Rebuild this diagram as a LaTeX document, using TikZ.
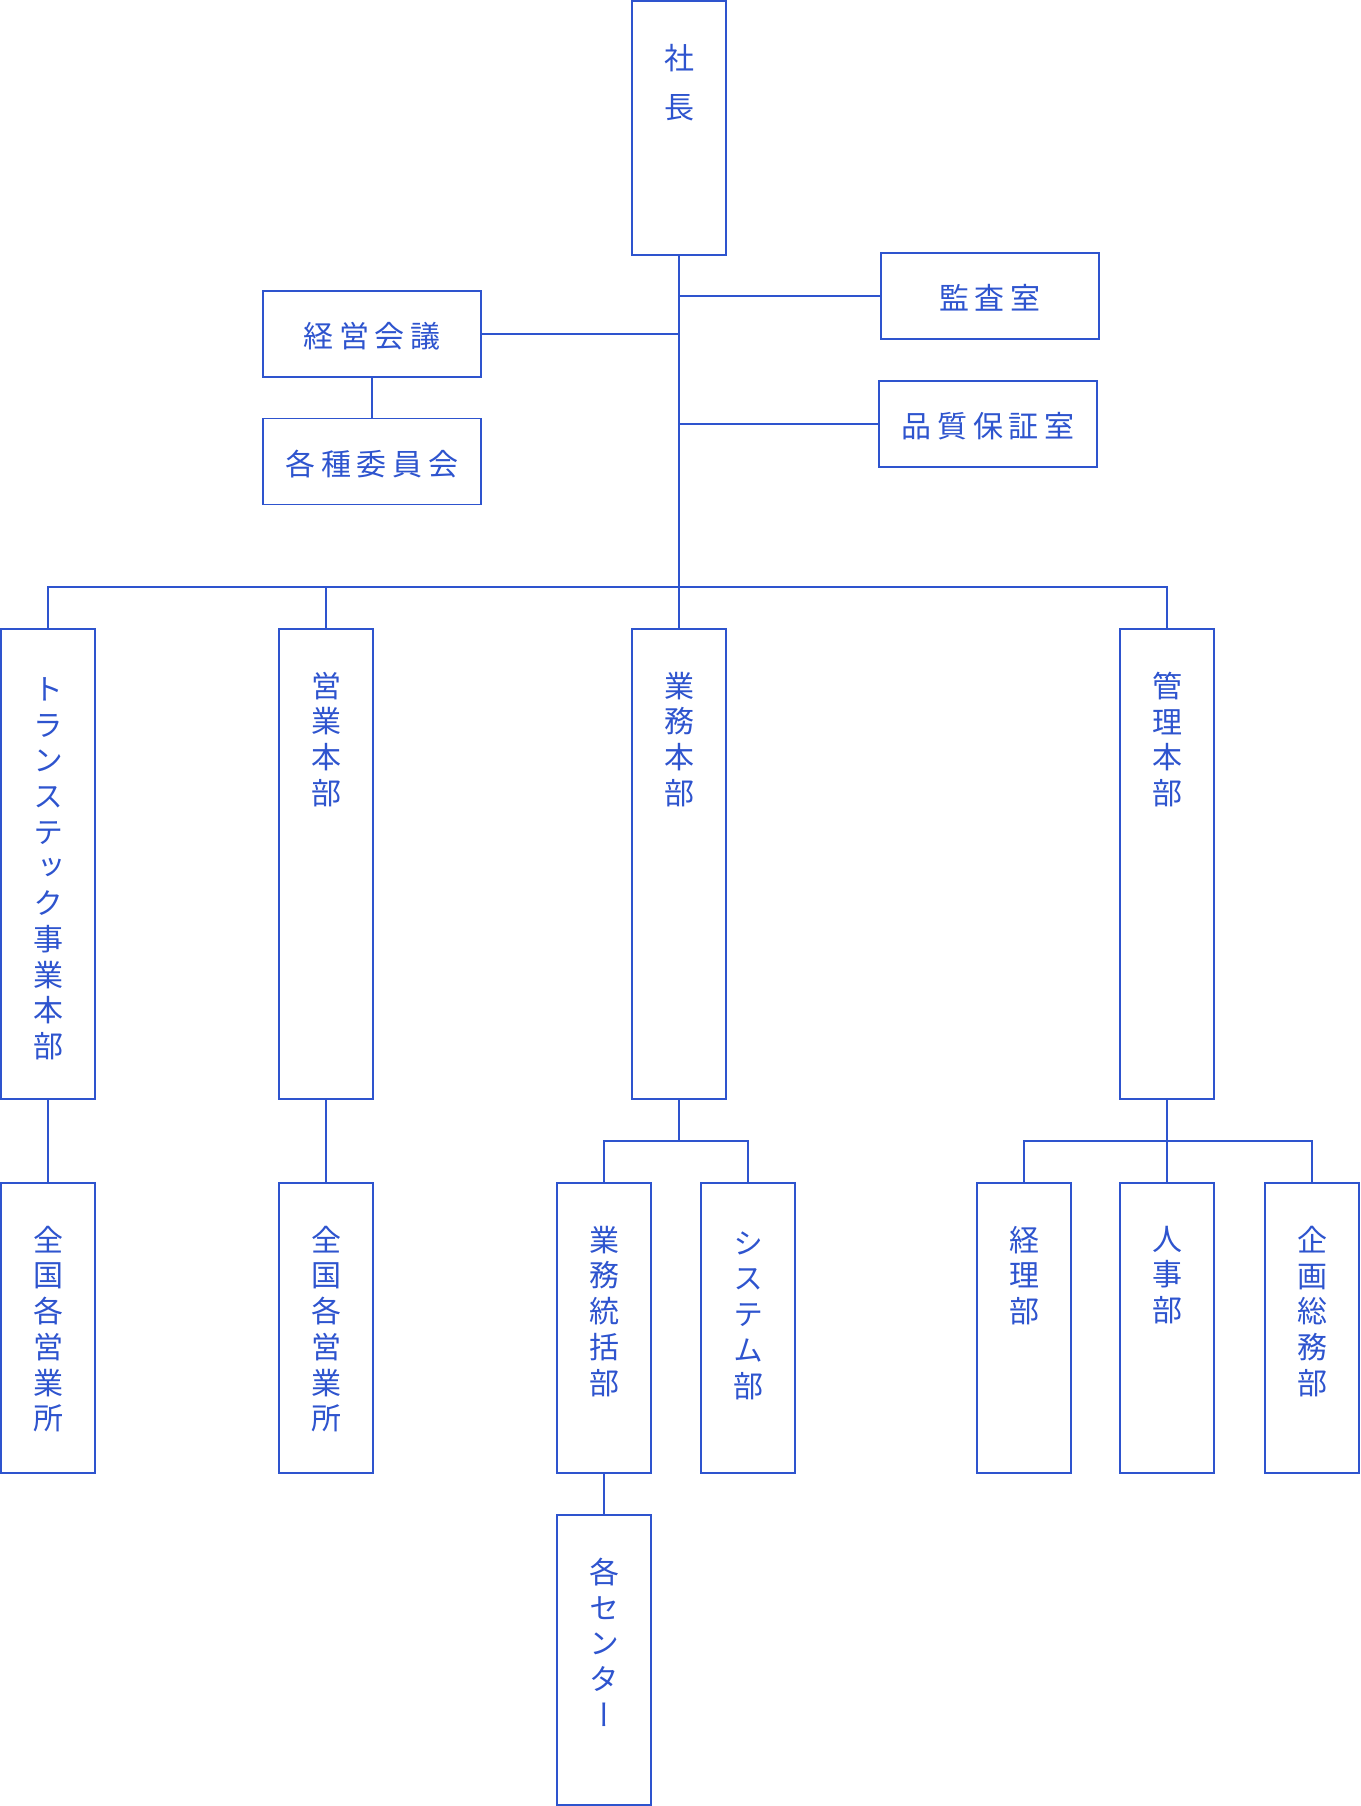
\documentclass[tikz,border=0pt]{standalone}
\usepackage{fontspec}
\setmainfont{Noto Sans CJK JP}
\newfontfamily\jpvert{Noto Sans CJK JP}[RawFeature=+vert]
\definecolor{orgblue}{RGB}{46,84,206}
\newcommand\gapj{\hspace{5.6pt}}

\begin{document}
\begin{tikzpicture}[x=1pt, y=-1pt, line width=1.5pt, orgblue,
  unit/.style={draw, rectangle, inner sep=0pt, minimum width=94pt},
  tallbox/.style={unit, minimum height=470pt},
  lowbox/.style={unit, minimum height=290pt},
  widebox/.style={draw, rectangle, inner sep=0pt, minimum width=218pt, minimum height=86pt, text height=27pt, text depth=0pt, font=\fontsize{30}{36}\selectfont},
  vtext/.style={anchor=north, yshift=-43pt, inner sep=0pt, align=center, font=\jpvert\fontsize{30}{35.7}\selectfont},
  kanatext/.style={vtext, yshift=-5.5pt}]
\useasboundingbox (0,0) rectangle (1360,1806);

% top
\node[unit, minimum height=254pt, label={[vtext, font=\jpvert\fontsize{30}{49.5}\selectfont]north:{社\\長}}] (pres) at (679,128) {};
\node[widebox] (audit) at (990,296) {監\gapj 査\gapj 室};
\node[widebox] (qa) at (988,424) {品\gapj 質\gapj 保\gapj 証\gapj 室};
\node[widebox] (mgmt) at (372,334) {経\gapj 営\gapj 会\gapj 議};
\node[widebox] (cmte) at (372,461.5) {各\gapj 種\gapj 委\gapj 員\gapj 会};
\coordinate (bus) at (679,587);

% divisions
\node[tallbox, label={[kanatext]north:{ト\\ラ\\ン\\ス\\テ\\ッ\\ク\\事\\業\\本\\部}}] (trans) at (48,864) {};
\node[tallbox, label={[vtext]north:{営\\業\\本\\部}}] (sales) at (326,864) {};
\node[tallbox, label={[vtext]north:{業\\務\\本\\部}}] (ops) at (679,864) {};
\node[tallbox, label={[vtext]north:{管\\理\\本\\部}}] (admin) at (1167,864) {};
\coordinate (opsbus) at (0,1141);
\coordinate (admbus) at (0,1141);

% departments
\node[lowbox, label={[vtext]north:{全\\国\\各\\営\\業\\所}}] (ntla) at (48,1328) {};
\node[lowbox, label={[vtext]north:{全\\国\\各\\営\\業\\所}}] (ntlb) at (326,1328) {};
\node[lowbox, label={[vtext]north:{業\\務\\統\\括\\部}}] (opsc) at (604,1328) {};
\node[lowbox, label={[kanatext]north:{シ\\ス\\テ\\ム\\部}}] (sys) at (748,1328) {};
\node[lowbox, label={[vtext]north:{経\\理\\部}}] (acct) at (1024,1328) {};
\node[lowbox, label={[vtext]north:{人\\事\\部}}] (hr) at (1167,1328) {};
\node[lowbox, label={[vtext]north:{企\\画\\総\\務\\部}}] (plan) at (1312,1328) {};
\node[lowbox, label={[vtext]north:{各\\セ\\ン\\タ\\ー}}] (ctrs) at (604,1660) {};

% lines
\draw (pres.south) -- (ops.north);
\draw (audit.west) -- (audit.west -| pres.south);
\draw (qa.west) -- (qa.west -| pres.south);
\draw (mgmt.east) -- (mgmt.east -| pres.south);
\draw (mgmt.south) -- (cmte.north);
\draw (trans.north) -- (trans.north |- bus) -- (admin.north |- bus) -- (admin.north);
\draw (sales.north) -- (sales.north |- bus);
\draw (trans.south) -- (ntla.north);
\draw (sales.south) -- (ntlb.north);
\draw (ops.south) -- (ops.south |- opsbus);
\draw (opsc.north) -- (opsc.north |- opsbus) -- (sys.north |- opsbus) -- (sys.north);
\draw (admin.south) -- (hr.north);
\draw (acct.north) -- (acct.north |- admbus) -- (plan.north |- admbus) -- (plan.north);
\draw (opsc.south) -- (ctrs.north);
\end{tikzpicture}
\end{document}
